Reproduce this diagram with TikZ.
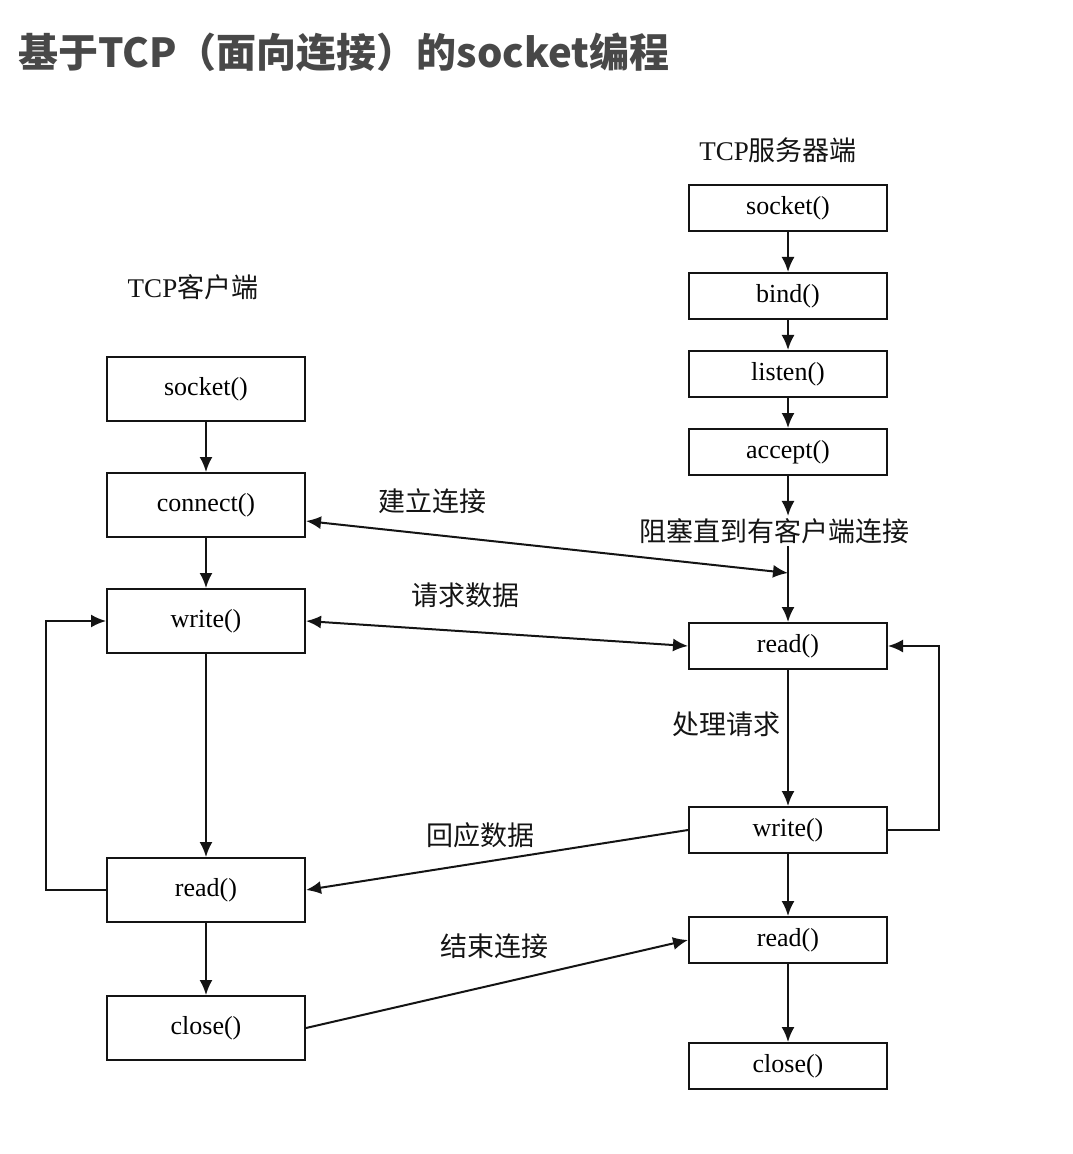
\documentclass[tikz,border=0pt]{standalone}
\usepackage{fontspec}
\setmainfont{Liberation Serif}
\newfontfamily\cjk{Noto Sans CJK SC}
\usepackage{tikz}
\usetikzlibrary{
  arrows.meta,
  positioning,
  calc
}
\definecolor{linecolor}{RGB}{20, 20, 20}
\definecolor{titlecolor}{RGB}{72, 72, 72}
\tikzset{
clientblock/.style={
  draw=linecolor,
  line width=1pt,
  minimum width=99pt,
  minimum height=32pt,
  inner sep=0pt,
  font=\fontsize{13}{15}\selectfont
},
serverblock/.style={
  clientblock,
  minimum height=23pt
},
note/.style={
  font=\cjk\fontsize{13.5}{16}\selectfont,
  text=linecolor,
  inner sep=1pt
},
titlelabel/.style={
  font=\cjk\bfseries\fontsize{20}{24}\selectfont,
  text=titlecolor,
  anchor=west,
  inner sep=0pt
},
arr/.style={
  -{Latex[length=7.5pt,width=6.5pt]},
  line width=1pt,
  draw=linecolor
},
dblarr/.style={
  arr,
  {Latex[length=7.5pt,width=6.5pt]}-{Latex[length=7.5pt,width=6.5pt]}
}
}
\begin{document}
\begin{tikzpicture}[x=0.5pt,y=-0.5pt]
  \useasboundingbox[fill=white] (0,0) rectangle (1072,1154);

  \node[titlelabel] (title) at (18,52) {基于TCP（面向连接）的socket编程};

  % client side
  \node[note] (clienthead) at (193,287) {\rmfamily TCP\cjk 客户端};
  \node[clientblock] (csocket)  at (206,389)  {socket()};
  \node[clientblock] (cconnect) at (206,505)  {connect()};
  \node[clientblock] (cwrite)   at (206,621)  {write()};
  \node[clientblock] (cread)    at (206,890)  {read()};
  \node[clientblock] (cclose)   at (206,1028) {close()};

  % server side
  \node[note] (serverhead) at (778,150) {\rmfamily TCP\cjk 服务器端};
  \node[serverblock] (ssocket) at (788,208)  {socket()};
  \node[serverblock] (sbind)   at (788,296)  {bind()};
  \node[serverblock] (slisten) at (788,374)  {listen()};
  \node[serverblock] (saccept) at (788,452)  {accept()};
  \node[serverblock] (sread)   at (788,646)  {read()};
  \node[serverblock] (swrite)  at (788,830)  {write()};
  \node[serverblock] (sreadb)  at (788,940)  {read()};
  \node[serverblock] (sclose)  at (788,1066) {close()};

  \node[note] (blocknote) at (774,531) {阻塞直到有客户端连接};
  \node[note] (handlenote) at (726,724) {处理请求};
  \coordinate (cjoin) at (788,573);

  \draw[arr] (csocket) -- (cconnect);
  \draw[arr] (cconnect) -- (cwrite);
  \draw[arr] (cwrite) -- (cread);
  \draw[arr] (cread) -- (cclose);
  \draw[arr] (cread.west) -- ++(-60,0) |- (cwrite.west);

  \draw[arr] (ssocket) -- (sbind);
  \draw[arr] (sbind) -- (slisten);
  \draw[arr] (slisten) -- (saccept);
  \draw[arr] (saccept) -- (saccept.south |- blocknote.north);
  \draw[arr] (saccept.south |- blocknote.south) -- (sread);
  \draw[arr] (sread) -- (swrite);
  \draw[arr] (swrite) -- (sreadb);
  \draw[arr] (sreadb) -- (sclose);
  \draw[arr] (swrite.east) -- ++(51,0) |- (sread.east);

  % messages between both sides
  \draw[dblarr] ($(cconnect.east)+(0,16)$) -- (cjoin);
  \draw[dblarr] (cwrite.east) -- (sread.west);
  \draw[arr] (swrite.west) -- (cread.east);
  \draw[arr] (cclose.east) -- (sreadb.west);

  \node[note] at (432,501) {建立连接};
  \node[note] at (465,595) {请求数据};
  \node[note] at (480,835) {回应数据};
  \node[note] at (494,946) {结束连接};
\end{tikzpicture}
\end{document}
